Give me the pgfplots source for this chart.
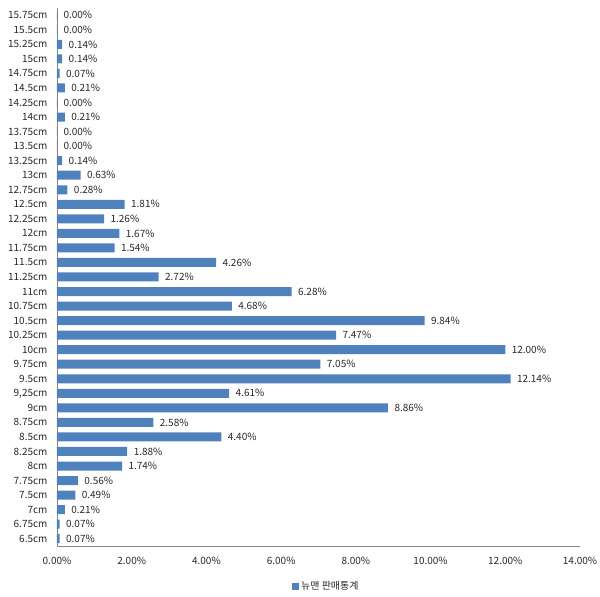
\documentclass[border=0pt]{standalone}
\usepackage{pgfplots}
\pgfplotsset{compat=1.18}
\usepackage{fontspec}
\setmainfont{Noto Sans CJK KR}
\definecolor{barblue}{RGB}{79,129,189}
\definecolor{axgray}{RGB}{134,134,134}
\definecolor{txt}{RGB}{40,40,40}
\begin{document}
\begin{tikzpicture}
\path[use as bounding box] (-57bp,-51bp) rectangle (543bp,546bp);
\begin{axis}[
  at={(0,0)}, anchor=south west,
  scale only axis, width=523bp, height=538bp,
  font=\fontsize{10bp}{11bp}\selectfont\color{txt},
  /pgf/number format/assume math mode=true,
  xbar, bar width=9bp,
  xmin=0, xmax=14, ymin=-0.5, ymax=36.5,
  xtick={0,2,...,14},
  xticklabel={\pgfmathprintnumber[fixed,fixed zerofill,precision=2]{\tick}\%},
  ytick={0,...,36},
  yticklabels={6.5cm,6.75cm,7cm,7.5cm,7.75cm,8cm,8.25cm,8.5cm,8.75cm,9cm,{9,25cm},9.5cm,9.75cm,10cm,10.25cm,10.5cm,10.75cm,11cm,11.25cm,11.5cm,11.75cm,12cm,12.25cm,12.5cm,12.75cm,13cm,13.25cm,13.5cm,13.75cm,14cm,14.25cm,14.5cm,14.75cm,15cm,15.25cm,15.5cm,15.75cm},
  major tick length=0pt,
  axis x line*=bottom, axis y line*=left,
  axis line style={draw=axgray,-},
  xticklabel style={yshift=-8bp},
  yticklabel style={xshift=-6bp},
  nodes near coords={\pgfmathprintnumber[fixed,fixed zerofill,precision=2]{\pgfplotspointmeta}\%},
  nodes near coords align={horizontal},
  every node near coord/.append style={xshift=3bp, font=\fontsize{10bp}{11bp}\selectfont\color{txt}},
  legend style={at={(0.515,-0.0745)}, anchor=center, draw=none, fill=none, font=\fontsize{10bp}{11bp}\selectfont\color{txt}},
  legend image code/.code={\fill[barblue] (0bp,-3.5bp) rectangle (7bp,3.5bp);},
]
\addplot[fill=barblue, draw=none] coordinates {
(0.07,0) (0.07,1) (0.21,2) (0.49,3) (0.56,4) (1.74,5) (1.88,6) (4.40,7) (2.58,8) (8.86,9)
(4.61,10) (12.14,11) (7.05,12) (12.00,13) (7.47,14) (9.84,15) (4.68,16) (6.28,17) (2.72,18) (4.26,19)
(1.54,20) (1.67,21) (1.26,22) (1.81,23) (0.28,24) (0.63,25) (0.14,26) (0,27) (0,28) (0.21,29)
(0,30) (0.21,31) (0.07,32) (0.14,33) (0.14,34) (0,35) (0,36)
};
\addlegendentry{뉴맨 판매통계}
\end{axis}
\end{tikzpicture}
\end{document}
